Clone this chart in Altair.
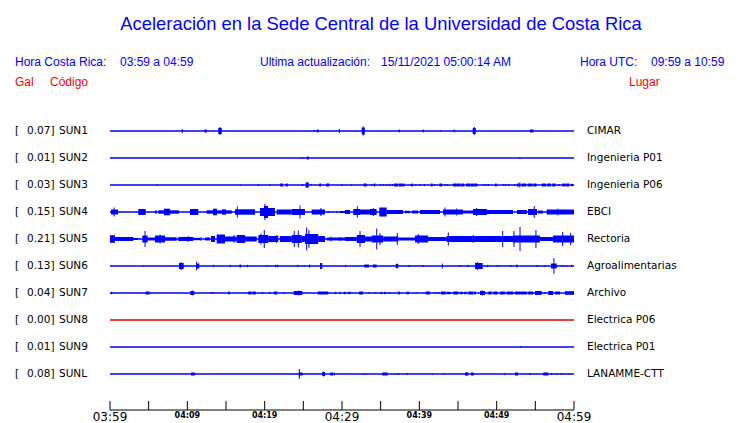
import altair as alt
import pandas as pd

# ---------------- data ----------------
CODES = ["SUN1", "SUN2", "SUN3", "SUN4", "SUN5", "SUN6", "SUN7", "SUN8", "SUN9", "SUNL"]
GAL = [0.07, 0.01, 0.03, 0.15, 0.21, 0.13, 0.04, 0.00, 0.01, 0.08]
PLACES = ["CIMAR", "Ingenieria P01", "Ingenieria P06", "EBCI", "Rectoria",
          "Agroalimentarias", "Archivo", "Electrica P06", "Electrica P01", "LANAMME-CTT"]
TRACE_COLORS = ["#0000ff"] * 7 + ["#dd0000"] + ["#0000ff"] * 2

# minutes after 03:59 -> (start, end, half amplitude) of sustained bursts
SEGMENTS = {
    "SUN1": [(12.25, 12.5, 1.5), (14.0, 14.45, 3), (26.75, 26.98, 1.5), (32.55, 32.95, 3.5),
             (46.9, 47.3, 3), (54.3, 54.75, 1.5)],
    "SUN2": [(25.45, 25.7, 1.5)],
    "SUN3": [(22.0, 22.25, 1.5), (22.75, 22.98, 1.5), (25.3, 25.7, 2.5), (27.05, 27.3, 1.5),
             (27.95, 28.35, 1.5), (32.8, 33.2, 1.5), (34.1, 34.3, 1.5), (36.75, 37.25, 1.5),
             (37.35, 37.85, 1.5), (37.9, 38.1, 1.5), (39.0, 39.2, 1.5), (41.5, 41.7, 1.5),
             (42.6, 42.95, 1.5), (44.35, 44.85, 1.5), (44.9, 45.3, 1.5), (45.4, 45.8, 1.5),
             (46.05, 46.55, 1.5), (46.6, 47.05, 1.5), (47.1, 47.5, 1.5), (49.8, 50.0, 1.5),
             (52.6, 53.0, 1.5), (53.2, 53.8, 1.5), (54.0, 54.6, 1.5), (54.75, 55.15, 1.5),
             (55.85, 56.35, 1.5), (56.5, 57.0, 1.5), (57.2, 57.6, 1.5), (58.5, 58.9, 1.5),
             (59.0, 59.4, 1.5), (59.6, 59.9, 1.2)],
    "SUN4": [(0.13, 1.03, 2.5), (3.66, 4.62, 3), (5.82, 6.08, 1.5), (6.25, 8.92, 1.7),
             (6.98, 7.76, 3.3), (10.34, 11.42, 3), (12.5, 15.74, 1.7), (13.32, 13.84, 3.3),
             (14.48, 15.0, 2.7), (16.16, 18.75, 2.7), (19.4, 21.33, 4), (19.91, 20.43, 6),
             (21.56, 23.49, 2.5), (23.49, 25.21, 3), (26.08, 27.8, 2.5), (29.74, 30.39, 1),
             (30.39, 31.03, 2), (31.46, 32.33, 3), (32.33, 33.62, 2.5), (33.62, 34.48, 3),
             (34.82, 35.78, 4.5), (35.78, 37.88, 2), (38.14, 38.79, 1.2), (39.05, 39.82, 1.5),
             (40.09, 42.67, 2), (43.06, 45.64, 2.5), (45.64, 46.94, 1.5), (46.94, 48.75, 3),
             (48.75, 52.11, 2), (52.63, 53.92, 2), (54.05, 55.21, 3), (55.34, 55.99, 1.5),
             (56.47, 60.0, 2.5)],
    "SUN5": [(0.0, 0.65, 3.8), (0.65, 3.01, 2), (3.01, 3.62, 1), (4.18, 4.87, 3.5),
             (4.87, 5.82, 1.5), (5.82, 7.11, 3.5), (7.11, 8.62, 1.8), (8.83, 10.77, 2),
             (10.77, 11.64, 1.2), (12.28, 12.93, 1.5), (13.06, 13.58, 3), (13.8, 14.87, 4.5),
             (14.87, 16.38, 2.5), (16.38, 17.46, 4), (17.46, 18.97, 2.5), (19.18, 20.47, 4),
             (20.47, 21.76, 3), (21.98, 23.49, 3), (23.49, 24.79, 4), (24.79, 25.21, 3),
             (25.21, 26.93, 5), (26.93, 27.8, 3), (28.02, 30.39, 1.5), (30.39, 31.9, 2),
             (31.9, 32.97, 4), (32.97, 33.84, 2.5), (33.84, 35.34, 3.5), (35.34, 37.28, 2.5),
             (37.28, 39.44, 1.5), (39.44, 41.16, 3.5), (41.16, 43.54, 2), (43.54, 47.84, 3),
             (47.84, 50.43, 3), (50.43, 52.11, 3), (52.11, 55.6, 3.5), (55.6, 57.28, 2),
             (57.28, 60.0, 3.5)],
    "SUN6": [(8.92, 9.53, 3), (11.12, 11.55, 2.5), (16.75, 16.95, 1.5), (21.35, 21.5, 1.2),
             (21.6, 21.75, 1.2), (25.75, 25.9, 1.5), (27.16, 27.45, 3), (32.88, 33.49, 1.5),
             (33.97, 34.48, 1.5), (36.94, 37.28, 2), (47.2, 48.19, 3), (52.55, 52.7, 1.5),
             (57.02, 57.76, 2.5)],
    "SUN7": [(0.1, 0.3, 1.2), (4.62, 5.13, 1.5), (10.38, 10.9, 2), (15.3, 15.5, 1.5),
             (17.88, 18.3, 1.5), (18.45, 18.84, 1.5), (21.21, 21.63, 1.5), (23.75, 24.87, 2),
             (26.86, 28.23, 1.5), (30.22, 30.5, 1.2), (30.8, 31.12, 1.2), (32.2, 32.71, 1.5),
             (35.0, 35.2, 1.2), (35.45, 35.65, 1.2), (37.24, 37.46, 1.5), (38.36, 38.66, 1.3),
             (40.82, 41.38, 1.5), (42.8, 43.41, 1.5), (43.54, 43.97, 1.2), (44.39, 45.04, 1.5),
             (45.26, 45.6, 1.3), (45.8, 46.12, 1.3), (46.33, 46.98, 1.5), (47.1, 47.3, 1.5),
             (47.84, 48.49, 2), (48.92, 49.36, 1.5), (49.56, 50.13, 1.5), (50.43, 51.07, 1.5),
             (51.29, 52.15, 1.5), (52.37, 53.88, 1.5), (54.01, 54.74, 1.5), (54.95, 55.82, 2),
             (56.68, 57.32, 2), (57.54, 58.19, 1.5), (58.83, 60.0, 1.8)],
    "SUN8": [],
    "SUN9": [],
    "SUNL": [(10.47, 10.99, 1.5), (24.4, 24.9, 1.5), (27.45, 27.8, 2), (28.49, 28.83, 1.5),
             (35.21, 35.91, 1.5), (45.9, 46.33, 1.5), (46.68, 47.03, 1.5), (52.37, 52.8, 1.5),
             (56.03, 56.68, 1.5)],
}

# minutes after 03:59 -> (time, half amplitude) of single spikes
SPIKES = {
    "SUN1": [(9.35, 2), (12.37, 1.5), (14.22, 4), (26.42, 1), (29.65, 2), (32.75, 4.5),
             (37.41, 1.5), (40.51, 1.5), (42.71, 0.7), (44.52, 1.5), (47.11, 4)],
    "SUN2": [(24.87, 1), (53.0, 1)],
    "SUN3": [(6.1, 0.7), (16.85, 0.7), (19.2, 1), (20.7, 1), (22.3, 1.5), (24.9, 1), (25.5, 3),
             (26.0, 1), (30.0, 1), (31.2, 0.8), (33.85, 1), (35.0, 1), (35.4, 1), (35.8, 1),
             (36.2, 1.2), (36.55, 1), (38.9, 1), (39.55, 1), (40.1, 1), (40.65, 1), (42.0, 1),
             (43.3, 1), (43.6, 1), (48.35, 1), (48.7, 1), (48.95, 1), (50.85, 1), (51.15, 1),
             (51.6, 1), (52.35, 1), (53.0, 2.5), (58.05, 1)],
    "SUN4": [(0.52, 4.5), (16.46, 5.5), (20.04, 8.3), (24.57, 6.5), (27.28, 4), (28.23, 1),
             (29.31, 1), (31.98, 5.7), (34.05, 4), (43.32, 4.5), (44.83, 3.5), (47.42, 4),
             (54.86, 6), (57.93, 3.5)],
    "SUN5": [(4.53, 8), (6.47, 4.5), (10.12, 3), (11.77, 2), (16.03, 4), (19.52, 5.5),
             (19.95, 9), (21.56, 4), (23.83, 8), (24.35, 8.5), (25.43, 11.5), (25.73, 9),
             (28.58, 2.5), (29.74, 2), (32.33, 8), (34.49, 10.5), (34.91, 6), (37.15, 6),
             (39.86, 5), (43.75, 6.5), (46.98, 4), (50.78, 8), (52.24, 8), (53.02, 12),
             (55.08, 9), (58.53, 7), (59.57, 6)],
    "SUN6": [(4.31, 0.7), (9.2, 4), (11.2, 4.5), (13.36, 1.2), (15.56, 1.2), (17.8, 1.2),
             (20.3, 1), (24.27, 1.2), (25.13, 0.8), (30.47, 1.2), (37.1, 2.5), (38.66, 1),
             (40.51, 1), (42.97, 2.5), (45.17, 1), (46.33, 1.2), (47.5, 4), (48.84, 1.2),
             (50.08, 1), (51.85, 1), (55.21, 1), (56.25, 1), (57.4, 7.8), (58.49, 1),
             (59.05, 1), (59.7, 1)],
    "SUN7": [(10.64, 2.5), (13.15, 1), (13.36, 1), (19.69, 1.2), (20.65, 1.2), (22.54, 1),
             (24.45, 2.5), (29.18, 1.2), (29.74, 1.2), (33.49, 1), (34.36, 1), (36.08, 1),
             (39.6, 0.8), (42.02, 1), (42.45, 1), (44.0, 1), (48.15, 2.5), (56.16, 1)],
    "SUN8": [],
    "SUN9": [(53.14, 1)],
    "SUNL": [(24.48, 5), (27.6, 2.5), (29.0, 1.5), (32.97, 1), (37.28, 1), (38.49, 1),
             (41.68, 0.8), (43.23, 0.8), (46.1, 1.8), (51.07, 1.2), (54.31, 1), (57.11, 1),
             (57.76, 0.8), (58.4, 1), (59.39, 0.8)],
}

TICK_MINUTES = list(range(0, 61, 5))
LABEL_MINUTES = [0, 10, 20, 30, 40, 50, 60]
LABEL_TEXT = ["03:59", "04:09", "04:19", "04:29", "04:39", "04:49", "04:59"]
LABEL_MAJOR = [True, False, False, True, False, False, True]

# ---------------- layout ----------------
SPACING = 27          # display units between traces
OX, OY = 110, 116     # page position used for placing the header texts
PAD_TOP = 109
AXIS_V = 279
BLUE = "#0000ff"
RED = "#ff0000"
FONT = "DejaVu Sans"
HFONT = "Liberation Sans"

st = pd.DataFrame({
    "code": CODES,
    "galtxt": [f"{g:.2f}]" for g in GAL],
    "place": PLACES,
    "color": TRACE_COLORS,
})
st["base"] = [i * SPACING for i in range(len(CODES))]
st["t0"] = 0
st["t1"] = 60
base_of = dict(zip(st["code"], st["base"]))

seg = pd.DataFrame([
    {"code": c, "t0": a, "t1": b, "lo": base_of[c] - amp, "hi": base_of[c] + amp}
    for c in CODES for (a, b, amp) in SEGMENTS[c]
])
spk = pd.DataFrame([
    {"code": c, "t": t, "lo": base_of[c] - amp, "hi": base_of[c] + amp}
    for c in CODES for (t, amp) in SPIKES[c]
])
ticks = pd.DataFrame({"m": TICK_MINUTES})
ticks["top"] = AXIS_V - 9
ticks["bot"] = AXIS_V
axisline = pd.DataFrame({"t0": [TICK_MINUTES[0]], "t1": [TICK_MINUTES[-1]], "v": [AXIS_V]})
labs = pd.DataFrame({"m": LABEL_MINUTES, "txt": LABEL_TEXT, "major": LABEL_MAJOR})

XS = alt.Scale(domain=[0, 60])
YS = alt.Scale(domain=[-14, AXIS_V], reverse=True)


def X(f):
    return alt.X(f, type="quantitative", scale=XS, axis=None)


def Y(f):
    return alt.Y(f, type="quantitative", scale=YS, axis=None)


baselines = alt.Chart(st).mark_rule(strokeWidth=1.3).encode(
    x=X("t0"), x2="t1", y=Y("base"), color=alt.Color("color:N", scale=None)
)
bursts = alt.Chart(seg).mark_rect(color=BLUE).encode(
    x=X("t0"), x2="t1", y=Y("lo"), y2="hi"
)
spikes = alt.Chart(spk).mark_rule(color=BLUE, strokeWidth=1).encode(
    x=X("t"), y=Y("lo"), y2="hi"
)
axis_rule = alt.Chart(axisline).mark_rule(color="black", strokeWidth=1).encode(
    x=X("t0"), x2="t1", y=Y("v")
)
tick_rules = alt.Chart(ticks).mark_rule(color="black", strokeWidth=1).encode(
    x=X("m"), y=Y("top"), y2="bot"
)
major_labels = alt.Chart(labs).transform_filter("datum.major").transform_calculate(
    v=str(AXIS_V + 7)
).mark_text(font=FONT, fontSize=12, color="black", baseline="middle").encode(
    x=X("m"), y=Y("v:Q"), text="txt:N"
)
minor_labels = alt.Chart(labs).transform_filter("!datum.major").transform_calculate(
    v=str(AXIS_V + 6)
).mark_text(font=FONT, fontSize=8, fontWeight="bold", color="black", baseline="middle").encode(
    x=X("m"), y=Y("v:Q"), text="txt:N"
)


def station_text(field, page_x):
    return alt.Chart(st).mark_text(
        font=FONT, fontSize=10.5, color="black", align="left", baseline="middle"
    ).encode(x=alt.value(page_x - OX), y=Y("base"), text=f"{field}:N")


st_bracket = alt.Chart(st).transform_calculate(b="'['").mark_text(
    font=FONT, fontSize=10.5, color="black", align="left", baseline="middle"
).encode(x=alt.value(15 - OX), y=Y("base"), text="b:N")
st_gal = station_text("galtxt", 27)
st_code = station_text("code", 59)
st_place = station_text("place", 587)


def label(text, page_x, page_y, size, color, align="left", font=HFONT):
    return alt.Chart(alt.Data(values=[{"k": 1}])).mark_text(
        text=text, font=font, fontSize=size, color=color, align=align, baseline="middle"
    ).encode(x=alt.value(page_x - OX), y=alt.value(page_y - OY - (PAD_TOP - 108)))


headers = [
    label("Aceleración en la Sede Central de la Universidad de Costa Rica", 381, 24, 18.4, BLUE, "center"),
    label("Hora Costa Rica:", 15, 62, 12, BLUE),
    label("03:59 a 04:59", 120, 62, 12, BLUE),
    label("Ultima actualización:", 260, 62, 12, BLUE),
    label("15/11/2021 05:00:14 AM", 381, 62, 12, BLUE),
    label("Hora UTC:", 580, 62, 12, BLUE),
    label("09:59 a 10:59", 651, 62, 12, BLUE),
    label("Gal", 15, 82, 12, RED),
    label("Código", 50, 82, 12, RED),
    label("Lugar", 629, 82, 12, RED),
]

chart = alt.layer(
    baselines, bursts, spikes, axis_rule, tick_rules, major_labels, minor_labels,
    st_bracket, st_gal, st_code, st_place, *headers
).properties(
    width=464,
    height=293,
    padding={"left": 102, "top": PAD_TOP, "right": 158, "bottom": 13},
    autosize=alt.AutoSizeParams(type="none"),
    background="white",
).configure_view(strokeWidth=0)

chart.save("out.html", embed_options={"renderer": "svg", "actions": False})
